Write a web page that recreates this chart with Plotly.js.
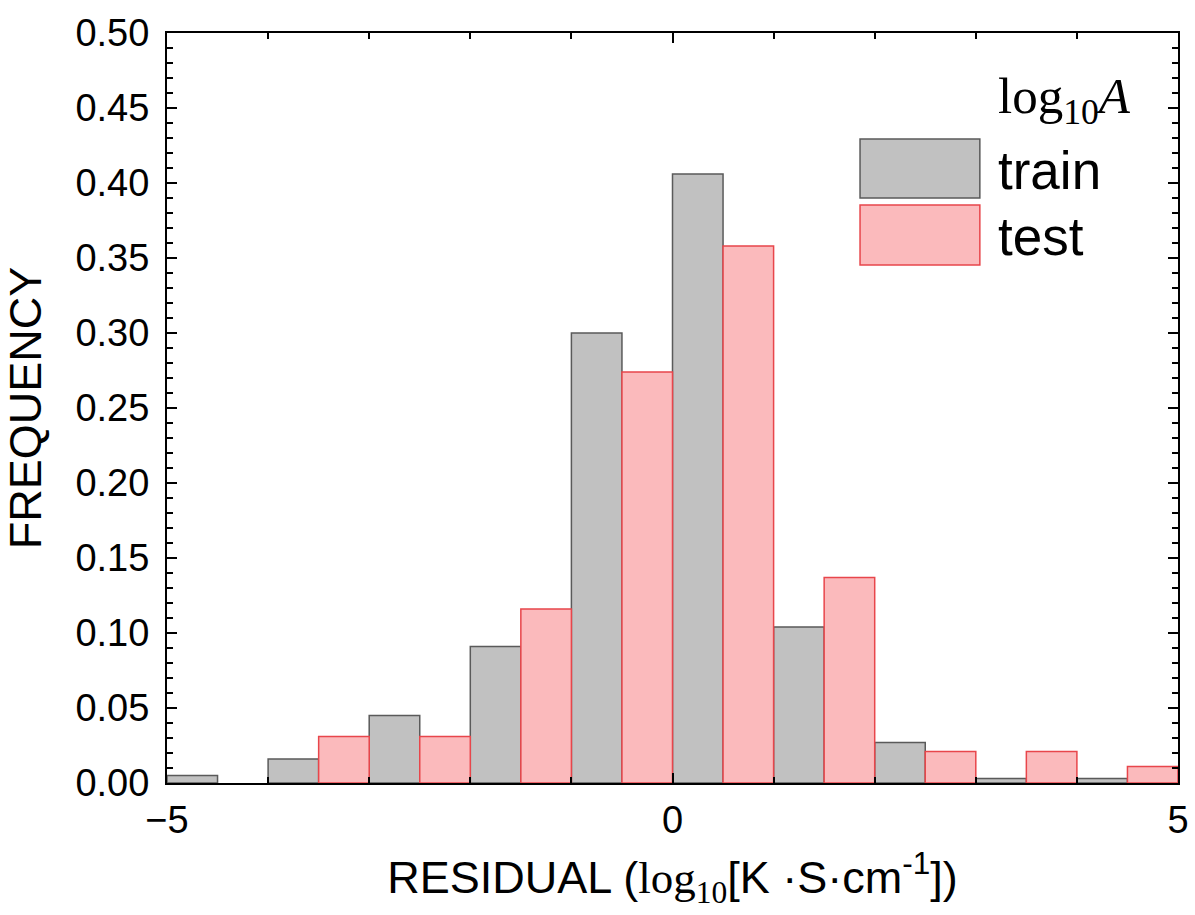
<!DOCTYPE html>
<html>
<head>
<meta charset="utf-8">
<script src="https://cdn.plot.ly/plotly-3.0.1.min.js"></script>
<style>html,body{margin:0;padding:0;background:#fff;}#chart{width:1195px;height:915px;}</style>
</head>
<body>
<div id="chart"></div>
<script>
// bin centres (bin width 1); train occupies left half, test right half
const binCenters = [-4.5, -3.5, -2.5, -1.5, -0.5, 0.5, 1.5, 2.5, 3.5, 4.5];
const trainFreq = [0.005, 0.016, 0.045, 0.091, 0.300, 0.406, 0.104, 0.027, 0.003, 0.003];
const testFreq  = [null, 0.031, 0.031, 0.116, 0.274, 0.358, 0.137, 0.021, 0.021, 0.011];
const seriesNames = ['train', 'test'];
const xTicks = [-5, 0, 5];
const xTickText = ['\u22125', '0', '5'];

const trainColor = '#c1c1c1', trainLine = '#5a5a5a';
const testColor = '#fbbabc', testLine = '#e8464b';

const traces = [
  {type: 'bar', name: seriesNames[0], x: binCenters, y: trainFreq,
   marker: {color: trainColor, line: {color: trainLine, width: 1.5}}, showlegend: false},
  {type: 'bar', name: seriesNames[1], x: binCenters, y: testFreq,
   marker: {color: testColor, line: {color: testLine, width: 1.5}}, showlegend: false}
];

const tickFont = {family: 'Liberation Sans, Arial, sans-serif', size: 38, color: '#000'};
const serif = 'Liberation Serif, Times New Roman, serif';

const layout = {
  width: 1195, height: 915,
  margin: {l: 167, r: 17, t: 33, b: 132},
  paper_bgcolor: '#fff', plot_bgcolor: '#fff',
  barmode: 'group', bargap: 0, bargroupgap: 0,
  font: {family: 'Liberation Sans, Arial, sans-serif', color: '#000'},
  xaxis: {
    range: [-5, 5], tickmode: 'array', tickvals: xTicks, ticktext: xTickText,
    ticks: 'inside', ticklen: 10, tickwidth: 2, tickcolor: '#000',
    showline: true, linecolor: '#000', linewidth: 2, mirror: 'ticks',
    showgrid: false, zeroline: false, tickfont: tickFont, ticklabelstandoff: 2,
    minor: {dtick: 1, tick0: 0, ticks: 'inside', ticklen: 6, tickwidth: 2, tickcolor: '#000', showgrid: false},
    title: {text: 'RESIDUAL (<span style="font-family:' + serif + '">log<sub>10</sub></span>[K \u00b7S\u00b7cm<sup>-1</sup>])',
            font: {size: 45, color: '#000'}, standoff: 22}
  },
  yaxis: {
    range: [0, 0.5], dtick: 0.05, tick0: 0, tickformat: '.2f',
    ticks: 'inside', ticklen: 10, tickwidth: 2, tickcolor: '#000',
    showline: true, linecolor: '#000', linewidth: 2, mirror: 'ticks',
    showgrid: false, zeroline: false, tickfont: tickFont, ticklabelstandoff: 8,
    minor: {dtick: 0.01, ticks: 'inside', ticklen: 6, tickwidth: 2, tickcolor: '#000', showgrid: false},
    title: {text: 'FREQUENCY', font: {size: 45, color: '#000'}, standoff: 22}
  },
  shapes: [
    {type: 'rect', xref: 'paper', yref: 'paper', x0: 0.6855, x1: 0.8040, y0: 0.7800, y1: 0.8587,
     fillcolor: trainColor, line: {color: trainLine, width: 1.5}},
    {type: 'rect', xref: 'paper', yref: 'paper', x0: 0.6855, x1: 0.8040, y0: 0.6907, y1: 0.7707,
     fillcolor: testColor, line: {color: testLine, width: 1.5}}
  ],
  annotations: [
    {xref: 'paper', yref: 'paper', x: 0.8200, y: 0.9107, xanchor: 'left', yanchor: 'middle', showarrow: false,
     text: 'log<sub>10</sub><i>A</i>', font: {family: serif, size: 51, color: '#000'}},
    {xref: 'paper', yref: 'paper', x: 0.8200, y: 0.8173, xanchor: 'left', yanchor: 'middle', showarrow: false,
     text: seriesNames[0], font: {size: 53, color: '#000'}},
    {xref: 'paper', yref: 'paper', x: 0.8200, y: 0.7293, xanchor: 'left', yanchor: 'middle', showarrow: false,
     text: seriesNames[1], font: {size: 53, color: '#000'}}
  ]
};

Plotly.newPlot('chart', traces, layout, {displayModeBar: false, staticPlot: true});
</script>
</body>
</html>
